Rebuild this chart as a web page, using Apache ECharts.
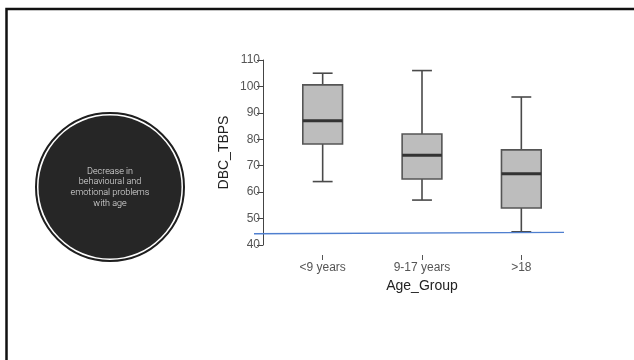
<!DOCTYPE html>
<html>
<head>
<meta charset="utf-8">
<script src="https://cdn.jsdelivr.net/npm/echarts@6/dist/echarts.min.js"></script>
<style>
  html, body { margin: 0; padding: 0; background: #fff; }
  #chart { width: 634px; height: 360px; }
</style>
</head>
<body>
<div id="chart"></div>
<script>
var categories = ['<9 years', '9-17 years', '>18'];
var whiskerLow = [64, 57, 45];
var q1 = [78.2, 65, 54];
var median = [87, 74, 67];
var q3 = [100.6, 82, 76];
var whiskerHigh = [105, 106, 96];
var yTicks = { min: 40, max: 110, interval: 10 };

var boxData = categories.map(function (c, i) {
  return [i, whiskerLow[i], q1[i], median[i], q3[i], whiskerHigh[i]];
});

function renderBox (params, api) {
  var i = api.value(0);
  var band = api.size([1, 0])[0];
  var halfBox = band * 0.2;
  var halfCap = band * 0.1;
  var lo = api.coord([i, api.value(1)]);
  var b1 = api.coord([i, api.value(2)]);
  var md = api.coord([i, api.value(3)]);
  var b3 = api.coord([i, api.value(4)]);
  var hi = api.coord([i, api.value(5)]);
  var cx = lo[0];
  var lineStyle = { stroke: '#4a4a4a', lineWidth: 1.6 };
  return {
    type: 'group',
    children: [
      { type: 'line', shape: { x1: cx, y1: hi[1], x2: cx, y2: b3[1] }, style: lineStyle },
      { type: 'line', shape: { x1: cx, y1: b1[1], x2: cx, y2: lo[1] }, style: lineStyle },
      { type: 'line', shape: { x1: cx - halfCap, y1: hi[1], x2: cx + halfCap, y2: hi[1] }, style: lineStyle },
      { type: 'line', shape: { x1: cx - halfCap, y1: lo[1], x2: cx + halfCap, y2: lo[1] }, style: lineStyle },
      { type: 'rect', shape: { x: cx - halfBox, y: b3[1], width: halfBox * 2, height: b1[1] - b3[1] },
        style: { fill: '#bdbdbd', stroke: '#555', lineWidth: 1.6 } },
      { type: 'line', shape: { x1: cx - halfBox, y1: md[1], x2: cx + halfBox, y2: md[1] },
        style: { stroke: '#333', lineWidth: 3 } }
    ]
  };
}

var chart = echarts.init(document.getElementById('chart'));
var option = {
  animation: false,
  textStyle: { fontFamily: 'Liberation Sans, Arial, sans-serif' },
  grid: { left: 273, right: 63, top: 60, bottom: 115 },
  xAxis: {
    type: 'category',
    data: categories,
    offset: 10,
    name: 'Age_Group',
    nameLocation: 'middle',
    nameGap: 22,
    nameTextStyle: { fontSize: 14, color: '#222' },
    axisLine: { show: false },
    axisTick: { show: true, alignWithLabel: true, length: 5, lineStyle: { color: '#555' } },
    axisLabel: { fontSize: 12, color: '#555', margin: 7 },
    splitLine: { show: false }
  },
  yAxis: {
    type: 'value',
    min: yTicks.min,
    max: yTicks.max,
    interval: yTicks.interval,
    offset: 10,
    name: 'DBC_TBPS',
    nameLocation: 'middle',
    nameGap: 32,
    nameTextStyle: { fontSize: 14, color: '#222' },
    axisLine: { show: true, lineStyle: { color: '#444' } },
    axisTick: { show: true, length: 6, lineStyle: { color: '#444' } },
    axisLabel: { fontSize: 12, color: '#555', margin: 3 },
    splitLine: { show: false }
  },
  series: [{
    type: 'custom',
    renderItem: renderBox,
    encode: { x: 0, y: [1, 2, 3, 4, 5] },
    data: boxData
  }],
  graphic: [
    // slide frame
    { type: 'rect', shape: { x: 6.5, y: 9, width: 700, height: 400 },
      style: { fill: 'none', stroke: '#111', lineWidth: 2.5 }, silent: true },
    // annotation circle
    { type: 'circle', shape: { cx: 110, cy: 187, r: 74 },
      style: { fill: '#fff', stroke: '#1e1e1e', lineWidth: 2 } },
    { type: 'circle', shape: { cx: 110, cy: 187, r: 71.5 },
      style: { fill: '#262626' } },
    { type: 'text', x: 110, y: 166,
      style: {
        text: 'Decrease in\nbehavioural and\nemotional problems\nwith age',
        align: 'center', verticalAlign: 'top',
        fill: '#e2e2e2', fontSize: 9, lineHeight: 10.7,
        fontFamily: 'Roboto', fontWeight: 300
      } },
    // blue reference line
    { type: 'line', shape: { x1: 254, y1: 233.8, x2: 564, y2: 232.4 },
      style: { stroke: '#4f7fcf', lineWidth: 1.4 }, z: 10 }
  ]
};
chart.setOption(option);
</script>
</body>
</html>
